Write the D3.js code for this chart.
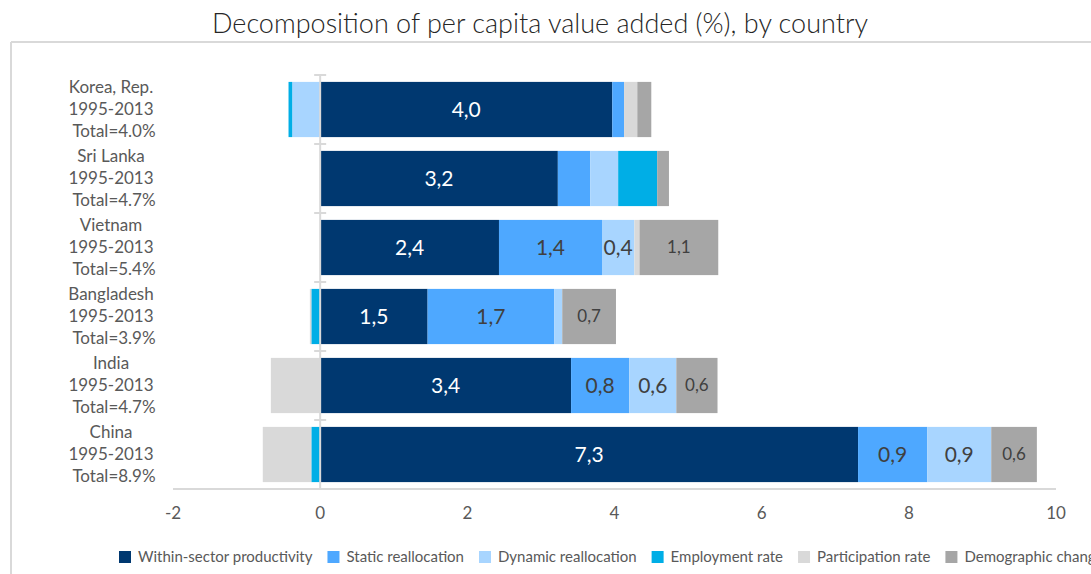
<!DOCTYPE html>
<html>
<head>
<meta charset="utf-8">
<script src="https://cdn.jsdelivr.net/npm/d3@7"></script>
<style>
  html, body { margin: 0; padding: 0; background: #fff; }
  svg { display: block; font-family: Lato, "Open Sans", sans-serif; }
</style>
</head>
<body>
<svg id="chart" width="1091" height="574"></svg>
<script>
// ---------- data ----------
const countries = ["Korea, Rep.", "Sri Lanka", "Vietnam", "Bangladesh", "India", "China"];
const periods = ["1995-2013", "1995-2013", "1995-2013", "1995-2013", "1995-2013", "1995-2013"];
const totals = ["Total=4.0%", "Total=4.7%", "Total=5.4%", "Total=3.9%", "Total=4.7%", "Total=8.9%"];
const seriesNames = ["Within-sector productivity", "Static reallocation", "Dynamic reallocation",
                     "Employment rate", "Participation rate", "Demographic change"];
const withinSector   = [3.97, 3.23, 2.43, 1.46, 3.41, 7.31];
const staticRealloc  = [0.16, 0.44, 1.40, 1.72, 0.79, 0.94];
const dynamicRealloc = [-0.38, 0.38, 0.44, 0.11, 0.64, 0.87];
const employmentRate = [-0.05, 0.53, 0.00, -0.12, 0.00, -0.12];
const participation  = [0.18, 0.00, 0.07, -0.02, -0.67, -0.66];
const demographic    = [0.19, 0.16, 1.07, 0.73, 0.56, 0.62];
// which segments carry a data label (1 = shown)
const labelWithin      = [1, 1, 1, 1, 1, 1];
const labelStatic      = [0, 0, 1, 1, 1, 1];
const labelDynamic     = [0, 0, 1, 0, 1, 1];
const labelEmployment  = [0, 0, 0, 0, 0, 0];
const labelParticip    = [0, 0, 0, 0, 0, 0];
const labelDemographic = [0, 0, 1, 1, 1, 1];
const xTicks = [-2, 0, 2, 4, 6, 8, 10];
const titleText = "Decomposition of per capita value added (%), by country";

// ---------- styling ----------
const colors = ["#003870", "#4EA8FF", "#A8D5FF", "#00AEE6", "#D9D9D9", "#A6A6A6"];
const labelColors = ["#ffffff", "#404040", "#404040", "#404040", "#404040", "#404040"];
const labelSizes = [21, 21, 21, 17, 17, 17];
const textGrey = "#595959";
const lineGrey = "#D9D9D9";

const seriesValues = [withinSector, staticRealloc, dynamicRealloc, employmentRate, participation, demographic];
const seriesLabels = [labelWithin, labelStatic, labelDynamic, labelEmployment, labelParticip, labelDemographic];

const table = countries.map((c, i) => {
  const row = { country: c };
  seriesNames.forEach((s, k) => row[s] = seriesValues[k][i]);
  return row;
});

const svg = d3.select("#chart");
const W = 1091, H = 574;

// outer frame (top and left edges visible)
svg.append("line").attr("x1", 11).attr("x2", W).attr("y1", 42).attr("y2", 42)
  .attr("stroke", lineGrey).attr("stroke-width", 2);
svg.append("line").attr("x1", 11).attr("x2", 11).attr("y1", 42).attr("y2", H)
  .attr("stroke", lineGrey).attr("stroke-width", 2);

// title
svg.append("text").attr("x", 540).attr("y", 33).attr("text-anchor", "middle")
  .attr("fill", "#262626").style("font-size", "27px").style("font-weight", 300)
  .text(titleText);

const x = d3.scaleLinear().domain([-2, 10]).range([173, 1056]);
const y = d3.scaleBand().domain(countries).range([75, 489]).paddingInner(0.2).paddingOuter(0.1);

const stack = d3.stack().keys(seriesNames).offset(d3.stackOffsetDiverging);
const stacked = stack(table);

const fmt = v => d3.format(".1f")(v).replace(".", ",");

const layers = svg.append("g").selectAll("g").data(stacked).join("g")
  .attr("fill", (d, k) => colors[k]);

layers.selectAll("rect").data(d => d).join("rect")
  .attr("x", d => x(Math.min(d[0], d[1])))
  .attr("width", d => Math.abs(x(d[1]) - x(d[0])))
  .attr("y", d => y(d.data.country))
  .attr("height", y.bandwidth());

// y axis line with tick marks at band boundaries
const yAxisX = x(0);
svg.append("line").attr("x1", yAxisX).attr("x2", yAxisX).attr("y1", 75).attr("y2", 489)
  .attr("stroke", lineGrey).attr("stroke-width", 2);
const bTicks = countries.map((c, i) => 75 + i * y.step());
svg.append("g").selectAll("line").data(bTicks).join("line")
  .attr("x1", yAxisX - 6).attr("x2", yAxisX + 6)
  .attr("y1", d => d).attr("y2", d => d)
  .attr("stroke", lineGrey).attr("stroke-width", 2);

// x axis
svg.append("line").attr("x1", x(-2)).attr("x2", x(10)).attr("y1", 489).attr("y2", 489)
  .attr("stroke", lineGrey).attr("stroke-width", 2);
svg.append("g").selectAll("text").data(xTicks).join("text")
  .attr("x", d => x(d)).attr("y", 519).attr("text-anchor", "middle")
  .attr("fill", textGrey).style("font-size", "17px")
  .text(d => d);

// data labels
stacked.forEach((layer, k) => {
  svg.append("g").selectAll("text")
    .data(layer.filter((d, i) => seriesLabels[k][i]))
    .join("text")
    .attr("x", d => (x(d[0]) + x(d[1])) / 2)
    .attr("y", d => y(d.data.country) + y.bandwidth() / 2)
    .attr("dy", "0.35em")
    .attr("text-anchor", "middle")
    .attr("fill", labelColors[k])
    .style("font-size", labelSizes[k] + "px")
    .text(d => fmt(d[1] - d[0]));
});

// category labels (three lines)
const catG = svg.append("g");
countries.forEach((c, i) => {
  const cy = y(c) + y.bandwidth() / 2;
  const lines = [c, periods[i], totals[i]];
  lines.forEach((t, j) => {
    catG.append("text").attr("x", j === 2 ? 114 : 111).attr("y", cy + (j - 1) * 22)
      .attr("dy", "0.35em").attr("text-anchor", "middle")
      .attr("fill", textGrey).style("font-size", "17px")
      .text(t);
  });
});

// legend
const legend = svg.append("g");
let lx = 119;
seriesNames.forEach((s, k) => {
  legend.append("rect").attr("x", lx).attr("y", 551).attr("width", 12).attr("height", 12)
    .attr("fill", colors[k]);
  const t = legend.append("text").attr("x", lx + 19).attr("y", 562)
    .attr("fill", textGrey).style("font-size", "15px").text(s);
  lx += 19 + t.node().getComputedTextLength() + 15;
});
</script>
</body>
</html>
